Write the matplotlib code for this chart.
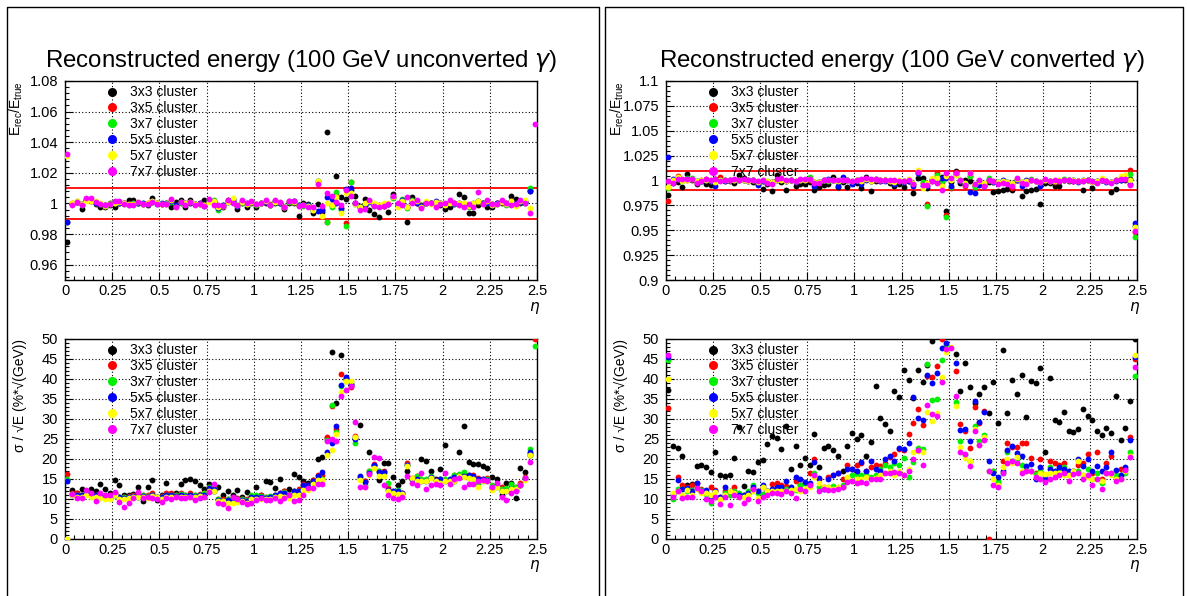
import numpy as np
import matplotlib
matplotlib.use("Agg")
import matplotlib.pyplot as plt
from matplotlib.lines import Line2D
from matplotlib.ticker import MultipleLocator

plt.rcParams['font.family'] = ['Liberation Sans', 'DejaVu Sans']
plt.rcParams['mathtext.fontset'] = 'dejavusans'

nan = np.nan

# eta bins: 100 bins of 0.025 from 0 to 2.5
eta = np.arange(100) * 0.025 + 0.0125

labels = ["3x3 cluster", "3x5 cluster", "3x7 cluster", "5x5 cluster", "5x7 cluster", "7x7 cluster"]
colors = ["#000000", "#ff0000", "#00f000", "#0000ff", "#ffff00", "#ff00ff"]

# ---- unconverted photons: E_rec / E_true ----
lin_unc_3x3 = [0.975, 0.9995, 1.001, 0.9965, 1.002, 1.0015, 0.9995, 0.998, 0.9975, 0.999,
               0.998, 1.0005, 1.0, 1.002, 1.002, 1.0005, 0.9995, 0.999, 1.0035, 1.0,
               0.9995, 1.0, 0.9975, 1.001, 1.002, 0.998, 1.0025, 0.9995, 0.9995, 1.002,
               1.002, 1.001, 0.998, 0.998, 1.002, 1.003, 0.9965, 1.0005, 0.998, 1.0,
               0.998, 1.0, 1.0, 0.999, 1.0, 1.0005, 0.9965, 1.0, 1.0005, 0.992,
               1.0, 0.9995, 0.9935, 0.9995, 0.9945, 1.047, 0.999, 1.018, 1.0043, 1.0028,
               1.009, 1.005, 0.9985, 1.003, 0.996, 0.993, 0.991, 0.9985, 0.9945, 1.006,
               0.999, 1.0, 0.988, 1.0045, 1.0, 0.999, 1.0, 1.0, 1.0, 0.999,
               0.9965, 0.998, 1.0, 1.006, 1.004, 0.9937, 0.9937, 0.999, 1.0, 0.998,
               0.9975, 1.0, 1.0, 1.0, 1.005, 1.003, 1.0, 1.0, 1.008, nan]
lin_unc_3x5 = [0.988, 1.0, 1.001, 0.9995, 1.002, 1.0025, 1.0005, 0.9995, 0.999, 1.0,
               1.0005, 1.0005, 1.0, 0.9995, 1.0, 1.0005, 0.9995, 1.0, 1.001, 1.0,
               0.9995, 1.0, 1.0015, 0.999, 1.0005, 1.0, 1.0005, 0.9995, 1.0, 0.999,
               1.0015, 1.0005, 0.997, 0.999, 1.001, 1.0015, 0.9985, 1.001, 0.9995, 1.001,
               0.9995, 1.0, 1.001, 0.9995, 1.0015, 1.0, 0.998, 1.001, 1.0015, 0.999,
               0.999, 0.9985, 0.9955, 1.0148, 0.9955, 0.988, 0.999, 1.0057, 0.997, 0.987,
               1.014, 1.0, 0.9975, 0.9985, 1.0015, 0.999, 0.999, 0.9985, 0.9995, 1.004,
               0.9985, 1.0015, 0.9975, 1.0015, 1.0005, 0.9985, 1.0005, 1.0, 1.0, 1.0,
               0.9995, 1.001, 1.0, 0.9995, 0.9995, 0.9985, 0.9995, 1.001, 1.0, 1.001,
               0.9995, 1.0, 1.001, 0.9995, 1.0015, 1.0, 1.001, 1.0015, 1.009, nan]
lin_unc_3x7 = [0.988, 0.9995, 1.0015, 0.999, 1.0025, 1.002, 1.0005, 0.9995, 0.9985, 1.0,
               1.0005, 1.001, 0.9995, 0.999, 1.0, 1.0005, 1.0, 0.9995, 1.001, 1.0,
               0.9995, 1.0, 1.001, 0.9985, 1.0005, 0.9995, 1.001, 0.9995, 0.9995, 0.999,
               1.002, 1.002, 0.9955, 0.9985, 1.0015, 1.001, 0.999, 1.0005, 0.9995, 1.001,
               0.999, 1.0, 1.0015, 0.999, 1.001, 1.0005, 0.998, 1.001, 1.001, 0.999,
               0.9985, 0.999, 0.996, 1.0145, 0.997, 0.9876, 0.998, 1.0074, 0.996, 0.9854,
               1.0137, 0.9995, 0.9975, 0.999, 1.0015, 0.9985, 0.9985, 0.999, 0.9995, 1.0035,
               0.999, 1.003, 0.997, 1.002, 1.001, 0.9985, 1.0005, 1.0, 0.9995, 1.0005,
               0.9995, 1.001, 0.9995, 1.0, 0.9995, 0.998, 0.9995, 1.0015, 1.0, 1.0005,
               0.9995, 0.9995, 1.0015, 0.999, 1.001, 0.9995, 1.001, 1.001, 1.010, nan]
lin_unc_5x5 = [0.9876, 0.9995, 1.001, 0.9995, 1.002, 1.002, 1.0, 0.9995, 0.999, 0.9995,
               1.001, 1.0005, 1.0, 0.9995, 0.9995, 1.0, 1.0, 0.9995, 1.0015, 0.9995,
               1.0, 0.9995, 1.0015, 0.999, 1.001, 1.0, 1.0005, 0.9995, 1.0, 0.9985,
               1.0015, 1.0015, 0.997, 0.999, 1.001, 1.0015, 0.9985, 1.001, 1.0, 1.001,
               0.9995, 1.0005, 1.001, 0.999, 1.0015, 1.0005, 0.998, 1.0015, 1.0015, 0.999,
               0.999, 0.999, 0.9965, 0.995, 0.996, 1.004, 1.003, 1.0, 0.997, 1.0096,
               1.010, 1.0, 0.998, 0.999, 1.001, 0.999, 0.9985, 0.999, 0.9995, 1.0045,
               0.9995, 1.002, 0.9975, 1.0015, 1.0005, 0.9985, 1.001, 1.0, 1.0015, 1.0,
               0.9995, 1.001, 0.9995, 1.0, 0.999, 0.9985, 1.0, 1.0015, 1.0, 1.0005,
               0.999, 1.0, 1.0015, 0.9995, 1.0015, 1.0, 1.001, 1.001, 1.008, nan]
lin_unc_5x7 = [1.031, 1.0, 1.0015, 0.9995, 1.0015, 1.0015, 1.0015, 1.0, 0.9985, 0.9995,
               1.0005, 1.001, 1.0, 0.9995, 0.9995, 1.001, 0.9995, 1.0, 1.0015, 1.0,
               0.9995, 0.9995, 1.002, 0.998, 1.001, 1.0, 1.001, 0.9995, 0.9995, 0.999,
               1.001, 1.0015, 0.998, 0.9985, 1.001, 1.0035, 0.999, 1.001, 0.9995, 1.001,
               0.9995, 1.0, 1.0015, 0.999, 1.001, 1.001, 0.998, 1.0015, 1.001, 0.9985,
               0.999, 0.9985, 0.996, 1.015, 0.9915, 1.0, 0.999, 1.004, 0.9937, 1.007,
               1.0067, 0.9995, 0.998, 1.0005, 1.0015, 1.0, 0.999, 1.0, 1.0, 1.004,
               0.998, 1.0015, 0.998, 1.0015, 1.0015, 0.998, 1.0015, 0.9995, 1.001, 1.0,
               0.999, 1.0005, 1.0005, 1.0, 1.0005, 0.9985, 1.0, 1.0015, 0.9995, 1.0015,
               0.999, 0.9995, 1.001, 0.9995, 1.0015, 0.9985, 1.0015, 1.0025, 0.997, nan]
lin_unc_7x7 = [1.032, 0.999, 1.001, 0.9991, 1.0035, 1.0035, 1.0007, 0.9998, 0.9987, 0.9998,
               1.0013, 1.0013, 0.9998, 0.9991, 0.9991, 1.0007, 0.9998, 0.9998, 1.0007, 0.9998,
               0.9998, 0.9998, 1.0028, 0.9974, 1.0007, 0.9991, 1.0007, 0.9991, 0.9995, 0.9985,
               1.0028, 0.9991, 0.999, 0.9985, 1.002, 1.0, 0.9991, 1.002, 1.0, 1.0013,
               0.9998, 1.0, 1.002, 0.999, 1.002, 1.0007, 0.9974, 1.0013, 1.0017, 0.9985,
               0.9987, 0.998, 0.9975, 1.0126, 0.9985, 1.0067, 1.0046, 1.0007, 0.999, 1.009,
               1.0046, 1.0, 0.996, 0.9963, 1.002, 0.9985, 0.998, 0.9985, 0.9998, 1.005,
               1.0, 0.9993, 1.004, 1.0005, 1.002, 0.997, 1.0, 1.0, 0.9976, 0.9998,
               1.0, 1.002, 1.0, 0.9987, 0.998, 0.9995, 0.998, 1.0074, 0.9998, 1.002,
               0.9998, 0.9998, 1.0024, 1.0, 0.9992, 0.9998, 1.002, 1.0, 0.994, 1.052]

# ---- converted photons: E_rec / E_true ----
lin_con_3x3 = [0.985, 0.997, 0.998, 0.993, 1.0063, 1.0, 0.9967, 0.999, 0.996, 0.9957,
               1.002, 1.0, 1.0, 0.9993, 0.997, 1.0057, 1.003, 1.0, 0.9983, 0.9967,
               0.9913, 0.996, 0.9897, 1.0057, 0.998, 0.9907, 1.0, 0.994, 0.9967, 0.9963,
               0.9985, 0.9907, 0.9933, 0.9957, 0.9967, 1.0033, 0.9933, 0.998, 0.9933, 0.998,
               0.997, 0.9923, 1.004, 0.989, 0.9993, 1.0, 1.0, 0.9973, 0.994, 0.9963,
               0.9933, 0.9993, 0.9873, 1.003, 1.003, 0.9923, 0.9993, 1.0033, 1.0033, 0.9697,
               0.9985, 1.01, 0.9973, 1.0, 0.999, 0.9947, 0.999, 0.995, 0.9985, 0.988,
               0.9897, 0.9907, 0.9913, 0.99, 1.0007, 0.984, 0.989, 0.99, 0.9913, 0.9767,
               0.9973, 0.9973, 0.9947, 0.9947, 1.0, 0.9993, 0.9993, 0.999, 0.9907, 1.0,
               0.9923, 0.999, 1.0, 0.999, 0.988, 0.9913, 1.0, 1.0, 1.002, 0.954]
lin_con_3x5 = [0.979, 0.9995, 1.005, 1.0, 1.001, 1.002, 0.9985, 1.0, 1.002, 0.999,
               0.998, 1.004, 0.9995, 1.0005, 1.001, 1.0, 1.001, 0.999, 1.0, 0.998,
               0.999, 0.9985, 0.9985, 1.0005, 1.0015, 0.999, 1.0, 0.9985, 1.0005, 1.0005,
               1.001, 0.9985, 0.998, 1.0, 1.0, 1.0005, 0.998, 1.0015, 1.0, 0.9985,
               1.0, 0.9985, 1.0015, 0.999, 1.001, 0.9995, 1.0, 0.999, 0.998, 0.999,
               0.999, 0.9995, 0.9965, 1.0095, 0.9975, 0.9763, 1.0, 1.0073, 0.9985, 0.9657,
               0.9923, 1.0087, 0.9995, 0.9947, 1.0045, 0.9955, 0.9985, 0.9965, 1.0, 0.9985,
               0.997, 0.9985, 0.9975, 0.9927, 1.001, 0.997, 0.998, 1.0, 0.999, 0.9975,
               1.0005, 0.999, 0.9985, 0.999, 1.0005, 1.0, 0.9995, 0.999, 0.9995, 1.0,
               0.9985, 0.998, 1.0005, 0.999, 0.998, 1.0, 1.0015, 1.0015, 1.0107, 0.948]
lin_con_3x7 = [0.992, 1.0, 1.003, 0.9995, 1.003, 1.003, 0.999, 0.9995, 1.0005, 0.999,
               0.9985, 1.001, 1.0, 1.0, 1.001, 1.0, 1.0005, 0.9995, 1.0005, 0.9985,
               0.9995, 0.999, 0.998, 1.001, 1.001, 0.9995, 1.0, 0.999, 1.0005, 1.001,
               1.004, 0.998, 0.9985, 1.0, 0.9995, 1.0005, 0.9985, 1.001, 1.0005, 0.999,
               1.0, 0.999, 1.0015, 0.9995, 1.0015, 1.0, 1.0, 0.9995, 0.998, 0.9995,
               0.999, 1.0, 0.9965, 1.008, 0.9983, 0.9747, 1.0005, 1.0057, 0.999, 0.9633,
               0.9933, 1.0057, 1.0, 0.996, 1.005, 0.9933, 0.9995, 0.9965, 1.0023, 0.9985,
               0.998, 0.999, 0.998, 0.9965, 1.0015, 0.998, 0.9985, 1.0013, 0.9995, 0.998,
               1.001, 0.9995, 0.999, 0.9995, 1.0015, 1.001, 1.0, 0.9995, 1.0, 1.0005,
               0.999, 0.9985, 1.001, 0.9995, 0.9985, 1.0005, 1.0025, 1.003, 1.0063, 0.9433]
lin_con_5x5 = [1.024, 1.0017, 1.002, 1.0, 1.0015, 1.0015, 0.999, 0.9995, 1.0, 0.999,
               0.9947, 1.0005, 0.9995, 1.0, 1.0005, 1.0, 1.0005, 0.9995, 1.0, 0.9953,
               0.999, 0.998, 0.998, 1.0005, 1.001, 0.999, 1.0, 0.9985, 1.0, 1.0005,
               1.0015, 0.994, 0.9985, 1.0, 1.0013, 1.0005, 0.9947, 1.0033, 1.0, 0.9967,
               0.9995, 0.996, 1.001, 0.999, 1.0017, 0.9995, 0.9995, 0.999, 0.9967, 0.999,
               0.9985, 0.9995, 0.9947, 1.008, 0.994, 0.994, 1.0013, 1.0, 1.0023, 1.0023,
               0.9947, 1.007, 0.9995, 0.9965, 0.988, 0.9873, 0.995, 0.9947, 1.0, 0.998,
               0.9985, 1.0007, 0.998, 0.997, 1.001, 0.9947, 1.0, 1.0005, 0.999, 0.9947,
               1.0005, 0.999, 0.999, 0.9995, 1.001, 1.0005, 1.0, 0.9985, 1.0, 1.0,
               0.998, 0.999, 1.0005, 0.9985, 0.998, 0.9995, 1.001, 1.002, 0.9967, 0.9573]
lin_con_5x7 = [0.9935, 1.0, 1.004, 0.9995, 1.001, 1.002, 0.999, 1.0, 1.001, 1.0,
               0.9985, 1.001, 1.0, 1.0005, 1.0005, 1.0, 1.0005, 0.9995, 1.0005, 0.9985,
               1.0, 0.999, 0.998, 1.0005, 1.001, 0.9995, 1.0005, 0.999, 1.0005, 1.0005,
               1.0015, 0.9985, 0.998, 1.0, 1.0, 1.0005, 0.999, 1.001, 1.0, 0.999,
               1.0005, 0.999, 1.0015, 0.9995, 1.0015, 1.0005, 1.0, 0.9995, 0.9985, 1.0,
               0.9995, 1.0017, 0.997, 1.0107, 0.9923, 0.997, 1.003, 1.003, 0.9947, 1.0047,
               1.0, 1.006, 1.0, 0.997, 1.008, 0.996, 0.999, 0.9975, 1.0005, 0.999,
               0.9985, 0.999, 0.9985, 0.997, 1.0015, 0.9985, 0.999, 1.0005, 0.9995, 0.9985,
               1.001, 0.9995, 0.9995, 1.0, 1.001, 1.0005, 1.0, 0.999, 1.0, 1.0005,
               0.9985, 0.999, 1.0023, 0.999, 0.9985, 1.0005, 1.0047, 1.0057, 1.0005, 0.953]
lin_con_7x7 = [0.9995, 0.997, 1.0013, 1.0013, 1.002, 1.0013, 0.9973, 0.999, 1.0013, 1.0,
               1.0017, 0.999, 1.0, 1.0007, 1.0013, 1.0007, 1.0017, 1.0, 1.0007, 0.999,
               1.0, 0.9973, 0.9963, 1.0013, 1.0023, 1.0, 1.0007, 0.999, 1.0013, 1.0013,
               1.002, 0.9973, 0.9973, 1.0007, 1.0007, 1.0, 1.0, 1.0007, 1.0007, 0.999,
               1.0007, 1.0013, 1.0023, 1.0013, 1.002, 1.0, 1.0007, 1.0, 1.0, 0.9997,
               0.9997, 1.0, 0.9967, 1.009, 0.9957, 0.9957, 0.999, 0.9973, 0.9907, 1.008,
               1.0023, 1.008, 1.0, 0.9957, 1.0073, 0.9967, 1.0007, 0.994, 1.0007, 0.999,
               0.9963, 0.9973, 0.9967, 0.9947, 1.0023, 0.9973, 0.9967, 1.0007, 0.999, 0.998,
               1.0013, 0.999, 1.0, 0.9997, 1.0007, 1.0, 0.9997, 0.999, 0.9997, 1.0007,
               0.999, 0.9973, 1.0, 0.999, 0.9973, 1.0007, 1.0013, 1.0013, 0.9957, 0.9497]

# ---- unconverted photons: sigma / sqrt(E) ----
res_unc_3x3 = [14.6, 12.1, 11.5, 12.4, 11.8, 12.5, 11.9, 13.6, 12.4, 11.5,
               14.7, 13.4, 11.0, 10.8, 11.2, 13.0, 9.4, 12.8, 14.7, 9.7,
               11.0, 14.0, 11.2, 11.5, 13.7, 14.7, 15.0, 14.5, 13.4, 12.5,
               13.6, 12.0, 12.8, 11.0, 12.0, 11.0, 12.1, 10.5, 11.7, 10.5,
               13.0, 11.0, 14.5, 14.1, 12.6, 15.0, 12.0, 12.5, 16.1, 15.4,
               14.3, 14.0, 14.7, 20.0, 20.4, 25.3, 46.7, 34.0, 46.0, 40.0,
               38.5, 25.2, 28.5, 14.3, 21.8, 18.3, 14.7, 18.9, 18.9, 15.3,
               13.5, 14.5, 17.0, 15.0, 15.2, 20.0, 19.3, 17.0, 15.0, 17.4,
               23.5, 14.3, 14.5, 21.8, 28.3, 19.1, 18.6, 18.6, 18.1, 17.6,
               15.4, 14.9, 11.0, 14.0, 14.0, 10.1, 17.6, 16.6, 21.0, 55.0]
res_unc_3x5 = [16.2, 11.3, 11.3, 11.0, 11.5, 11.2, 11.0, 10.8, 10.5, 11.0,
               11.4, 10.5, 10.5, 10.6, 10.9, 10.8, 10.9, 10.8, 11.3, 10.5,
               10.6, 11.3, 11.3, 11.0, 11.3, 11.0, 11.3, 11.0, 11.2, 11.4,
               13.0, 12.8, 10.0, 9.8, 10.0, 10.0, 10.2, 10.0, 9.8, 10.7,
               10.5, 10.8, 10.5, 10.5, 11.0, 11.5, 11.9, 11.0, 12.0, 12.3,
               13.7, 13.5, 14.7, 15.8, 16.0, 25.4, 33.3, 27.4, 41.2, 40.2,
               38.0, 25.6, 15.5, 14.5, 16.9, 18.6, 16.8, 17.0, 12.6, 11.5,
               11.8, 11.3, 18.9, 15.1, 15.6, 14.6, 14.6, 15.3, 14.6, 15.0,
               14.6, 14.7, 16.0, 15.6, 16.0, 16.0, 15.8, 15.1, 14.8, 15.1,
               13.0, 13.5, 12.8, 12.2, 13.0, 12.8, 13.9, 15.3, 21.4, 49.9]
res_unc_3x7 = [14.9, 11.2, 11.0, 10.8, 11.3, 11.0, 10.9, 10.6, 10.8, 10.6,
               11.0, 10.3, 10.3, 10.5, 10.6, 10.5, 10.8, 10.6, 11.0, 10.3,
               10.5, 11.0, 11.0, 10.8, 11.2, 10.8, 11.0, 10.8, 11.0, 11.3,
               13.0, 12.6, 9.9, 9.5, 9.8, 9.8, 10.0, 9.8, 9.6, 10.8,
               10.8, 10.6, 10.3, 10.6, 10.8, 11.2, 11.6, 11.0, 11.8, 11.8,
               13.2, 13.0, 14.2, 13.9, 15.0, 24.8, 33.5, 26.8, 38.1, 39.4,
               39.3, 23.9, 15.0, 13.4, 17.0, 18.2, 16.9, 16.5, 13.9, 12.0,
               12.2, 11.2, 18.5, 14.9, 15.6, 14.8, 14.8, 15.6, 14.3, 15.0,
               15.0, 14.8, 15.8, 16.1, 16.6, 15.1, 15.0, 13.8, 14.3, 14.8,
               13.4, 13.0, 12.5, 12.6, 13.6, 12.8, 13.5, 15.1, 22.5, 48.3]
res_unc_5x5 = [14.5, 11.0, 10.9, 10.8, 11.2, 10.9, 10.8, 10.5, 10.6, 10.5,
               11.0, 10.3, 10.2, 10.4, 10.6, 10.5, 10.7, 10.5, 11.0, 10.3,
               10.4, 11.0, 11.0, 10.7, 11.0, 10.7, 11.0, 10.7, 11.0, 11.0,
               12.6, 12.4, 9.6, 9.5, 9.7, 9.7, 9.9, 9.7, 9.5, 10.5,
               10.5, 10.5, 10.2, 10.5, 10.8, 11.4, 11.5, 11.0, 11.8, 12.0,
               13.3, 13.3, 14.5, 15.6, 16.6, 21.7, 23.9, 28.1, 38.5, 40.4,
               38.7, 25.0, 15.7, 14.2, 16.4, 18.3, 16.6, 16.6, 12.2, 11.8,
               11.8, 11.5, 18.3, 15.0, 14.8, 14.3, 14.3, 15.5, 14.6, 15.0,
               14.3, 15.0, 15.5, 15.6, 15.6, 15.8, 15.7, 15.0, 14.8, 14.7,
               12.6, 13.2, 12.0, 12.0, 12.3, 12.2, 13.5, 14.9, 21.8, 52.0]
res_unc_5x7 = [0.0, 10.8, 10.5, 10.5, 10.8, 10.4, 10.5, 10.2, 10.0, 10.0,
               10.8, 9.8, 10.0, 10.2, 10.3, 10.5, 10.3, 10.2, 10.6, 10.3,
               10.0, 10.5, 10.5, 10.3, 10.5, 10.4, 10.5, 10.3, 10.6, 10.5,
               12.0, 11.8, 9.5, 9.3, 8.8, 9.0, 9.2, 9.3, 9.0, 10.0,
               10.0, 9.8, 10.0, 10.0, 10.3, 10.6, 10.5, 10.2, 11.0, 11.0,
               12.2, 12.2, 13.7, 14.7, 14.7, 21.0, 22.2, 26.3, 36.6, 39.4,
               39.5, 25.5, 14.7, 13.0, 15.8, 17.7, 15.6, 15.7, 12.0, 11.5,
               11.1, 11.1, 18.1, 15.1, 14.3, 14.3, 14.3, 15.1, 14.3, 13.9,
               14.3, 14.4, 14.3, 15.6, 15.3, 15.1, 14.9, 13.0, 14.3, 14.3,
               12.2, 12.8, 11.8, 12.0, 12.5, 12.5, 13.5, 14.7, 21.0, 51.0]
res_unc_7x7 = [nan, 11.1, 10.2, 10.1, 12.2, 11.3, 9.4, 11.3, 10.8, 11.0,
               11.6, 9.2, 8.0, 8.8, 10.1, 11.7, 10.1, 10.3, 10.1, 9.9,
               9.2, 10.1, 9.9, 10.3, 10.1, 10.1, 10.3, 9.6, 10.1, 10.5,
               11.6, 13.7, 8.8, 8.6, 7.7, 10.3, 9.9, 9.2, 8.6, 8.8,
               9.6, 10.1, 9.6, 9.6, 10.1, 9.4, 10.1, 10.9, 9.4, 9.7,
               11.0, 12.6, 12.6, 13.7, 13.7, 24.5, 24.9, 24.5, 35.8, 37.1,
               38.1, 29.2, 13.0, 13.0, 16.2, 20.4, 20.1, 13.3, 10.8, 10.1,
               9.9, 10.5, 15.6, 13.9, 13.3, 16.4, 12.5, 13.5, 13.6, 13.3,
               16.4, 13.6, 14.8, 15.1, 12.8, 13.6, 13.6, 14.3, 14.7, 14.5,
               12.8, 13.9, 10.4, 9.7, 11.4, 11.8, 13.5, 15.1, 19.1, 51.0]

# ---- converted photons: sigma / sqrt(E) ----
res_con_3x3 = [37.3, 23.3, 22.6, 20.7, 13.5, 13.7, 18.2, 18.5, 17.8, 16.6,
               21.6, 15.8, 15.6, 16.0, 20.3, 27.9, 13.2, 17.0, 16.7, 19.2,
               19.7, 23.7, 25.8, 25.1, 22.4, 28.1, 17.5, 23.2, 18.3, 20.1,
               18.3, 26.1, 17.9, 22.7, 23.1, 22.1, 20.8, 16.8, 23.2, 26.4,
               24.9, 25.9, 20.7, 24.2, 38.1, 30.2, 28.8, 27.0, 36.9, 35.5,
               42.3, 39.6, 35.3, 42.3, 39.2, 43.6, 49.4, 52.0, 55.0, 53.0,
               52.0, 46.2, 36.9, 44.1, 38.0, 34.0, 36.3, 38.0, 31.4, 39.2,
               28.9, 47.3, 31.4, 39.8, 36.3, 41.1, 30.4, 39.4, 39.0, 42.7,
               21.8, 40.2, 29.6, 29.1, 31.7, 27.0, 26.8, 27.4, 32.4, 30.8,
               29.6, 27.0, 25.9, 27.7, 26.4, 35.6, 24.6, 27.7, 34.4, 50.0]
res_con_3x5 = [32.6, 11.2, 15.3, 13.3, 12.8, 13.5, 13.8, 12.5, 11.5, 12.8,
               12.2, 10.5, 12.0, 11.5, 12.8, 11.0, 11.0, 11.5, 12.5, 12.0,
               12.8, 11.8, 13.6, 13.8, 13.4, 13.2, 12.0, 14.5, 13.5, 13.8,
               16.3, 19.8, 15.0, 13.0, 15.5, 16.0, 16.5, 14.8, 18.5, 17.5,
               18.4, 19.0, 17.0, 17.8, 18.4, 18.2, 19.0, 20.5, 21.3, 22.5,
               22.2, 26.3, 29.0, 32.4, 28.5, 40.8, 40.6, 43.3, 50.0, 51.0,
               53.0, 42.1, 28.7, 27.0, 22.8, 33.0, 29.0, 32.0, 0.0, 17.0,
               14.0, 19.5, 24.0, 23.0, 23.0, 24.0, 24.0, 20.3, 16.5, 19.8,
               16.0, 19.5, 19.0, 18.3, 18.8, 16.0, 17.0, 18.5, 18.8, 21.3,
               16.5, 21.8, 15.0, 19.0, 20.8, 15.3, 17.5, 17.5, 25.5, 45.0]
res_con_3x7 = [44.8, 10.0, 12.5, 12.3, 12.0, 12.2, 13.0, 12.2, 11.2, 9.0,
               10.5, 10.0, 11.5, 11.0, 12.0, 11.3, 10.8, 12.0, 13.5, 11.5,
               11.2, 12.0, 12.2, 12.5, 12.0, 12.5, 12.8, 12.2, 13.5, 14.0,
               13.5, 16.5, 12.8, 12.5, 13.0, 13.2, 12.8, 13.5, 15.0, 15.8,
               16.2, 16.0, 16.0, 15.5, 16.0, 17.5, 18.5, 18.0, 19.0, 18.5,
               20.3, 15.5, 19.1, 22.8, 22.5, 43.7, 34.6, 35.0, 44.8, 48.5,
               52.0, 34.3, 24.5, 21.0, 19.5, 28.3, 24.5, 26.0, 16.8, 16.8,
               14.5, 16.5, 21.8, 19.5, 20.0, 18.5, 18.0, 17.0, 16.2, 17.0,
               15.5, 18.0, 17.0, 17.5, 17.8, 17.0, 16.5, 17.0, 15.8, 17.5,
               15.0, 16.3, 13.8, 16.5, 16.5, 16.0, 16.0, 16.5, 21.6, 40.7]
res_con_5x5 = [45.5, 10.8, 14.6, 12.5, 12.7, 11.8, 14.0, 12.0, 12.2, 10.5,
               11.8, 10.3, 12.8, 11.8, 11.5, 11.0, 11.0, 11.5, 12.8, 11.8,
               13.5, 12.0, 12.5, 13.0, 12.8, 14.5, 13.0, 15.5, 15.0, 14.2,
               14.0, 19.2, 15.2, 12.3, 15.0, 15.8, 16.5, 12.8, 17.3, 17.5,
               16.8, 19.2, 17.0, 19.3, 17.3, 16.8, 20.0, 20.8, 19.5, 22.8,
               22.5, 24.0, 35.5, 30.3, 29.8, 41.0, 39.0, 41.5, 47.7, 49.0,
               52.0, 44.0, 27.3, 27.5, 24.5, 34.5, 29.2, 31.8, 19.5, 16.3,
               15.5, 17.0, 22.3, 23.2, 21.5, 20.6, 18.2, 18.7, 14.8, 18.0,
               15.0, 17.5, 16.8, 17.8, 17.3, 17.0, 17.0, 19.8, 18.2, 19.8,
               17.0, 18.2, 16.8, 18.0, 21.7, 17.2, 15.8, 18.0, 24.6, 45.5]
res_con_5x7 = [40.0, 11.5, 12.0, 11.0, 12.2, 11.0, 12.5, 11.5, 11.3, 10.8,
               11.6, 9.8, 11.0, 11.8, 11.5, 10.5, 10.4, 11.0, 12.0, 10.2,
               12.8, 11.8, 12.0, 12.0, 11.8, 12.0, 12.2, 12.5, 12.0, 12.5,
               13.0, 15.5, 14.0, 12.8, 12.8, 12.5, 13.0, 13.0, 15.5, 14.5,
               14.8, 15.0, 15.5, 15.0, 15.2, 15.8, 16.5, 16.8, 15.8, 17.0,
               16.0, 17.5, 21.6, 22.0, 21.8, 31.8, 29.5, 31.5, 40.5, 46.7,
               48.0, 33.1, 23.0, 20.3, 19.5, 27.5, 23.5, 25.5, 16.8, 15.0,
               13.5, 18.0, 19.8, 19.0, 20.5, 17.0, 17.0, 17.0, 15.5, 16.5,
               16.2, 16.3, 16.5, 16.5, 16.0, 15.8, 16.8, 19.5, 16.0, 15.5,
               14.8, 15.0, 14.5, 16.5, 16.0, 15.0, 14.8, 17.0, 20.8, 46.0]
res_con_7x7 = [45.9, 10.4, 12.0, 10.2, 10.5, 10.5, 12.6, 12.0, 10.0, 9.5,
               10.5, 8.6, 10.3, 8.5, 11.0, 10.5, 9.0, 10.0, 12.5, 9.5,
               10.5, 11.0, 11.5, 11.5, 11.2, 12.0, 11.5, 10.2, 12.5, 12.0,
               13.5, 16.0, 11.8, 12.3, 12.2, 12.2, 12.5, 13.0, 14.2, 14.5,
               14.0, 14.2, 13.8, 14.8, 14.8, 14.8, 16.3, 16.5, 16.7, 16.5,
               16.0, 16.8, 20.0, 22.2, 18.4, 33.5, 31.3, 30.8, 39.3, 47.5,
               47.7, 35.6, 21.6, 21.3, 18.1, 27.0, 23.5, 24.6, 16.8, 13.5,
               12.8, 16.5, 18.8, 19.5, 19.0, 16.5, 16.8, 16.8, 15.5, 15.0,
               14.2, 14.8, 15.3, 16.0, 16.5, 14.5, 16.2, 16.5, 15.0, 16.0,
               13.3, 15.0, 12.3, 16.5, 16.5, 14.5, 15.0, 17.2, 20.5, 42.9]


W, H = 1187, 596
fig = plt.figure(figsize=(W / 100, H / 100), dpi=100)


def px_axes(x0, y0, x1, y1):
    return fig.add_axes([x0 / W, 1 - y1 / H, (x1 - x0) / W, (y1 - y0) / H])


def style_axes(ax, ymin, ymax, ymaj, ymin_step, yfmt):
    ax.set_xlim(0, 2.5)
    ax.set_ylim(ymin, ymax)
    ax.xaxis.set_major_locator(MultipleLocator(0.25))
    ax.xaxis.set_minor_locator(MultipleLocator(0.05))
    ax.yaxis.set_major_locator(MultipleLocator(ymaj))
    ax.yaxis.set_minor_locator(MultipleLocator(ymin_step))
    ax.xaxis.set_major_formatter(plt.FuncFormatter(lambda v, p: ('%g' % round(v, 3))))
    ax.yaxis.set_major_formatter(plt.FuncFormatter(yfmt))
    ax.tick_params(which='both', direction='in', top=False, right=False,
                   labelsize=10.5, width=0.8)
    ax.tick_params(which='major', length=6)
    ax.tick_params(which='minor', length=3)
    ax.tick_params(axis='x', pad=3)
    ax.tick_params(axis='y', pad=5)
    ax.grid(True, which='major', color='black', linestyle=(0, (1, 2)), linewidth=0.8)
    for s in ax.spines.values():
        s.set_linewidth(1.0)
    ax.text(0.995, -0.14, r'$\eta$', transform=ax.transAxes, ha='center', va='center', fontsize=11)


def draw_panel(ax, series):
    for vals, c, lab in zip(series, colors, labels):
        ax.plot(eta, vals, 'o', ms=4.2, color=c, mec='none', label=lab, zorder=3)
    ax.legend(loc='upper left', bbox_to_anchor=(0.085, 0.978), frameon=False,
              fontsize=10, markerscale=1.55, handlelength=1.0, handletextpad=0.8,
              labelspacing=0.14, borderpad=0, borderaxespad=0)


def fmt_lin(v, p):
    return '%g' % round(v, 3)


def fmt_res(v, p):
    return '%d' % round(v)


panels = [
    (65, 537, "Reconstructed energy (100 GeV unconverted $\\gamma$)", 301,
     [lin_unc_3x3, lin_unc_3x5, lin_unc_3x7, lin_unc_5x5, lin_unc_5x7, lin_unc_7x7],
     [res_unc_3x3, res_unc_3x5, res_unc_3x7, res_unc_5x5, res_unc_5x7, res_unc_7x7],
     (0.95, 1.08, 0.02, 0.004)),
    (666, 1137, "Reconstructed energy (100 GeV converted $\\gamma$)", 902,
     [lin_con_3x3, lin_con_3x5, lin_con_3x7, lin_con_5x5, lin_con_5x7, lin_con_7x7],
     [res_con_3x3, res_con_3x5, res_con_3x7, res_con_5x5, res_con_5x7, res_con_7x7],
     (0.9, 1.1, 0.025, 0.005)),
]

for x0, x1, title, tx, lin, res, (lo, hi, mj, mn) in panels:
    fig.text(tx / W, 1 - 61 / H, title, ha='center', va='center', fontsize=17.3)

    ax = px_axes(x0, 81, x1, 280)
    style_axes(ax, lo, hi, mj, mn, fmt_lin)
    ax.axhline(1.01, color='red', lw=1.3, zorder=2)
    ax.axhline(0.99, color='red', lw=1.3, zorder=2)
    draw_panel(ax, lin)
    ax.set_ylabel(r'$\mathregular{E_{rec}/E_{true}}$', fontsize=10, loc='top')
    ax.yaxis.set_label_coords(-0.085, 1.0)

    ax2 = px_axes(x0, 339, x1, 538.5)
    style_axes(ax2, 0, 50, 5, 1, fmt_res)
    draw_panel(ax2, res)
    ax2.set_ylabel('σ / √E (%*√(GeV))', fontsize=10, loc='top')
    ax2.yaxis.set_label_coords(-0.08, 1.0)

# canvas frames
for xa, xb in [(6.5, 599), (605, 1183)]:
    fx = [xa / W, xa / W, xb / W, xb / W]
    fy = [0, 1 - 7 / H, 1 - 7 / H, 0]
    fig.add_artist(Line2D(fx, fy, transform=fig.transFigure, color='black', lw=1.0))

fig.savefig('out.png', dpi=100)
